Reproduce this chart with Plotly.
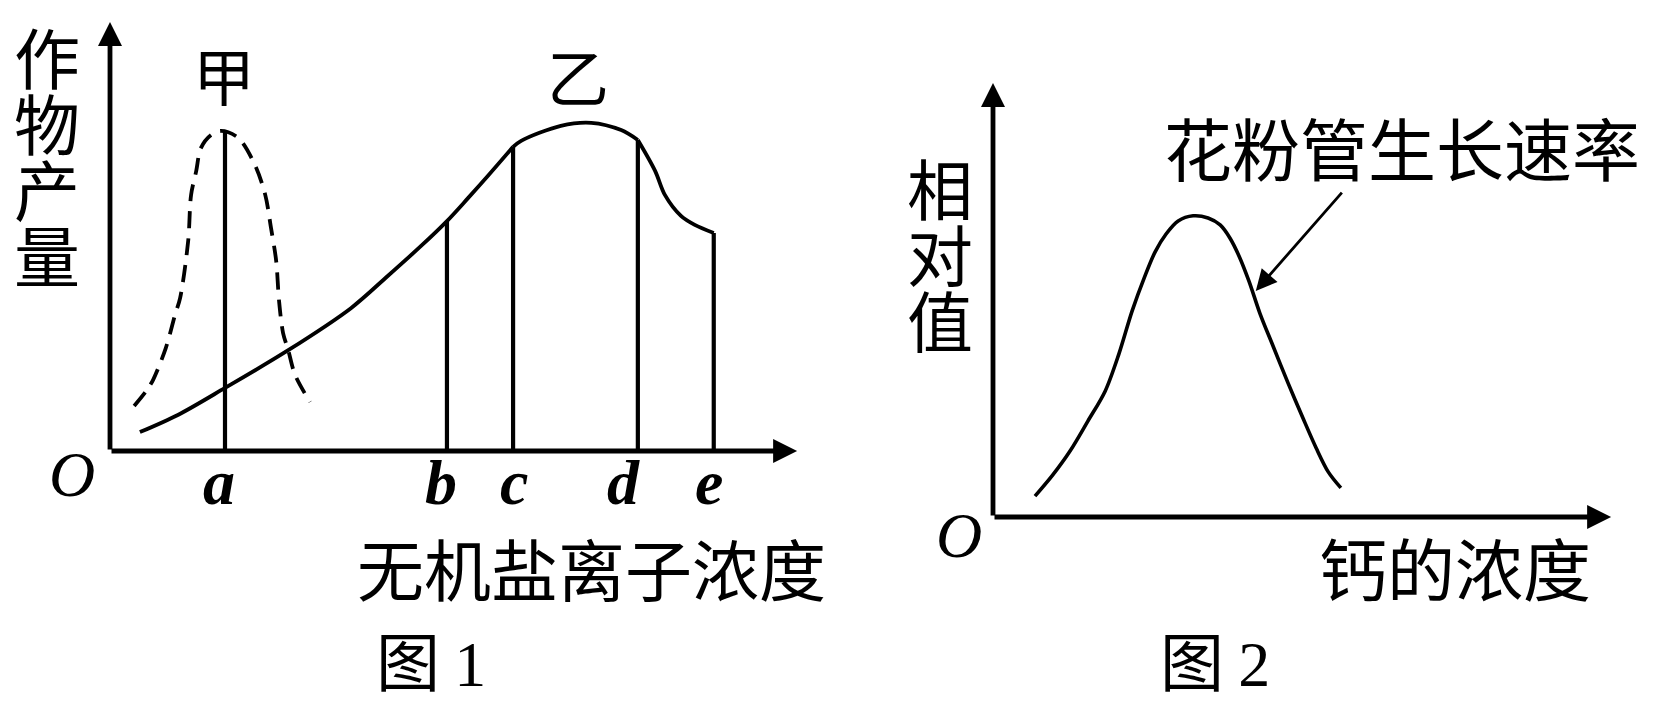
import plotly.graph_objects as go

W, H = 1654, 705

# ---------------- Figure 1 data (x: 无机盐离子浓度, y: 作物产量) ----------------
# 乙 (solid) in three smooth pieces: start->c, c->d, d->e
yi_x1 = [0.52, 1.18, 2.00, 3.10, 4.19, 4.83, 5.41, 5.86, 6.23, 6.57, 7.01]
yi_y1 = [0.44, 0.84, 1.47, 2.35, 3.33, 4.08, 4.78, 5.36, 5.90, 6.41, 7.09]
yi_x2 = [7.01, 7.15, 7.84, 8.37, 8.89, 9.18]
yi_y2 = [7.09, 7.23, 7.58, 7.65, 7.48, 7.25]
yi_x3 = [9.18, 9.48, 9.65, 9.93, 10.17, 10.50]
yi_y3 = [7.25, 6.53, 5.97, 5.48, 5.27, 5.08]

# 甲 (dashed)
jia_x = [0.42, 0.63, 0.75, 0.97, 1.13, 1.22, 1.36, 1.41, 1.50, 1.58, 1.76, 1.93,
         2.23, 2.52, 2.70, 2.80, 2.89, 2.94, 3.01, 3.10, 3.22, 3.48]
jia_y = [1.05, 1.40, 1.66, 2.40, 3.17, 3.57, 4.90, 5.97, 6.53, 7.06, 7.37, 7.46,
         7.30, 6.67, 5.97, 5.20, 4.43, 3.50, 2.75, 2.35, 1.77, 1.14]

# vertical marker lines at a, b, c, d, e
mark_labels = ["a", "b", "c", "d", "e"]
mark_x = [2.00, 5.86, 7.01, 9.18, 10.50]
mark_top = [7.46, 5.36, 7.09, 7.25, 5.08]
label_x = [1.90, 5.76, 7.03, 8.93, 10.42]

axis1_xmax = 11.95
axis1_ymax = 10.0

# ---------------- Figure 2 data (x: 钙的浓度, y: 相对值) ----------------
pollen_x = [0.73, 1.04, 1.34, 1.65, 1.95, 2.19, 2.42, 2.63, 2.82, 3.01, 3.22, 3.48,
            3.74, 3.95, 4.12, 4.28, 4.45, 4.64, 4.87, 5.13, 5.39, 5.62, 5.83, 6.05]
pollen_y = [0.48, 0.97, 1.52, 2.21, 2.90, 3.76, 4.75, 5.51, 6.11, 6.52, 6.82, 6.94,
            6.89, 6.73, 6.43, 6.01, 5.44, 4.70, 3.94, 3.09, 2.28, 1.59, 1.04, 0.67]
pointer_tip = (4.57, 5.21)
pointer_tail = (6.09, 7.51)

axis2_xmax = 10.75
axis2_ymax = 10.0

# ---------------- figure ----------------
fig = go.Figure()
BLACK = "#000000"
CJK = "Noto Sans CJK SC"
SERIF = "Liberation Serif"

def line(x, y, xa="x", ya="y", width=3.8, dash="solid", shape="spline"):
    fig.add_trace(go.Scatter(x=x, y=y, mode="lines", xaxis=xa, yaxis=ya,
                             line=dict(color=BLACK, width=width, dash=dash,
                                       shape=shape, smoothing=0.9),
                             hoverinfo="skip", showlegend=False))

line(jia_x, jia_y, dash="17px,10px")
line(yi_x1, yi_y1)
line(yi_x2, yi_y2)
line(yi_x3, yi_y3)
for xv, top in zip(mark_x, mark_top):
    line([xv, xv], [0, top], width=4.2, shape="linear")

line(pollen_x, pollen_y, xa="x2", ya="y2", width=3.6)

# axes as arrows
annotations = []
def arrow(xt, yt, xs, ys, xr, yr, width=4.8, size=1.0, head=2):
    annotations.append(dict(x=xt, y=yt, ax=xs, ay=ys, xref=xr, yref=yr,
                            axref=xr, ayref=yr, showarrow=True, text="",
                            arrowhead=head, arrowwidth=width, arrowsize=size,
                            arrowcolor=BLACK, standoff=0, startstandoff=0))

arrow(axis1_xmax, 0, 0, 0, "x", "y")
arrow(0, axis1_ymax, 0, 0, "x", "y")
arrow(axis2_xmax, 0, 0, 0, "x2", "y2")
arrow(0, axis2_ymax, 0, 0, "x2", "y2")
arrow(pointer_tip[0], pointer_tip[1], pointer_tail[0], pointer_tail[1], "x2", "y2",
      width=2.8, size=1.5)

def text(t, px, py, size=66, family=CJK, italic=False, bold=False):
    annotations.append(dict(text=t, x=px / W, y=1 - py / H, xref="paper", yref="paper",
                            showarrow=False, xanchor="center", yanchor="middle",
                            font=dict(family=family, size=size, color=BLACK,
                                      style="italic" if italic else "normal",
                                      weight="bold" if bold else "normal")))

def vtext(chars, px, py, size=66, pitch=66):
    # one text block, one character per line, lines spaced by `pitch` pixels
    body = "<br>".join(f"<span style='font-size:{size}px'>{c}</span>" for c in chars)
    text(body, px, py, size=pitch / 1.3)

DY = -12  # glyph centre sits below the annotation box centre
# figure 1 texts
vtext("作物产量", 39, 158 + DY)
text("甲", 216, 78 + DY, size=62)
text("乙", 570, 79 + DY, size=62)
text("O", 64, 467, size=64, family=SERIF, italic=True)
for lab, xv in zip(mark_labels, label_x):
    annotations.append(dict(text=lab, x=xv, y=0, xref="x", yref="y", yshift=-31,
                            showarrow=False, xanchor="center", yanchor="middle",
                            font=dict(family=SERIF, size=64, color=BLACK,
                                      style="italic", weight="bold")))
text("无机盐离子浓度", 583, 570 + DY, size=67)
text("图 <span style='font-family:Liberation Serif'>1</span>", 423, 662 + DY, size=64)

# figure 2 texts
vtext("相对值", 932, 256 + DY)
text("花粉管生长速率", 1394, 151 + DY, size=68)
text("O", 951, 527, size=64, family=SERIF, italic=True)
text("钙的浓度", 1447, 570 + DY, size=68)
text("图 <span style='font-family:Liberation Serif'>2</span>", 1207, 662 + DY, size=64)

# axis ranges so that data units map onto the drawing
x1_lo, x1_hi = -102 / 57.5, (827 - 102) / 57.5
y1_lo, y1_hi = (443 - 705) / 42.9, 443 / 42.9
x2_lo, x2_hi = (827 - 985) / 57.5, (1654 - 985) / 57.5
y2_lo, y2_hi = (509 - 705) / 43.4, 509 / 43.4

hidden = dict(visible=False, showgrid=False, zeroline=False, fixedrange=True)
fig.update_layout(
    width=W, height=H, margin=dict(l=0, r=0, t=0, b=0),
    paper_bgcolor="white", plot_bgcolor="white", showlegend=False,
    xaxis=dict(domain=[0, 827 / W], range=[x1_lo, x1_hi], anchor="y", **hidden),
    yaxis=dict(domain=[0, 1], range=[y1_lo, y1_hi], anchor="x", **hidden),
    xaxis2=dict(domain=[827 / W, 1], range=[x2_lo, x2_hi], anchor="y2", **hidden),
    yaxis2=dict(domain=[0, 1], range=[y2_lo, y2_hi], anchor="x2", **hidden),
    annotations=annotations,
)

fig.write_html("out.html")
